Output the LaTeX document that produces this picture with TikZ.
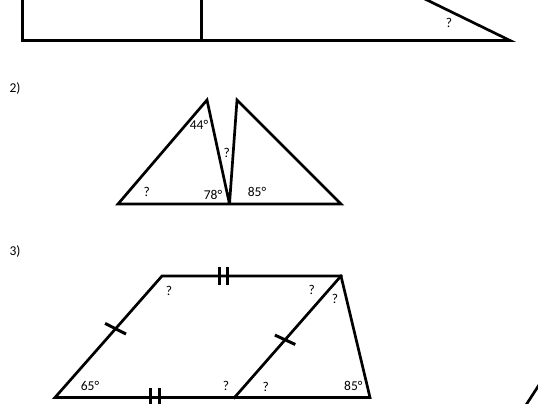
\documentclass[tikz,border=0pt]{standalone}
\usepackage{fontspec}
\setmainfont{Carlito}
\usetikzlibrary{calc}
\begin{document}
\begin{tikzpicture}[x=1pt,y=-1pt,
  edge/.style={line width=2.7pt,line join=miter,miter limit=5,line cap=rect},
  tick/.style={line width=3pt},
  lbl/.style={inner sep=0pt,font=\fontsize{13.5}{15}\selectfont}]
\useasboundingbox (0,0) rectangle (538,404);
\clip (0,0) rectangle (538,404);
% figure 1
\coordinate (r1) at (22.5,-6);
\coordinate (r2) at (22.5,40.5);
\coordinate (r3) at (510,40.5);
\coordinate (r4) at (201.5,-6);
\coordinate (r5) at (201.5,40.5);
\coordinate (r6) at (414.7,-6);
\draw[edge] (r1) -- (r2) -- (r3) -- (r6);
\draw[edge] (r4) -- (r5);
\node[lbl] (q1) at (449,23) {?};
% figure 2
\node[lbl] (n2) at (15,88) {2)};
\coordinate (A) at (118,204);
\coordinate (B) at (207,100);
\coordinate (C) at (229.5,204);
\coordinate (D) at (237,100);
\coordinate (E) at (341,204);
\draw[edge,line cap=butt] (A) -- (B) -- (C) -- (D) -- (E) -- cycle;
\node[lbl] (a44) at (199,125) {44°};
\node[lbl] (q2) at (226.7,153) {?};
\node[lbl] (a78) at (213,195) {78°};
\node[lbl] (q3) at (146.7,191.5) {?};
\node[lbl] (a85) at (257,191.5) {85°};
% figure 3
\node[lbl] (n3) at (15,251) {3)};
\coordinate (P1) at (55,397.5);
\coordinate (P2) at (162,276);
\coordinate (P3) at (341,276);
\coordinate (P4) at (370,397.5);
\coordinate (M) at (234.5,397.5);
\draw[edge,line cap=butt] (P1) -- (P2) -- (P3) -- (P4) -- cycle;
\draw[edge] (M) -- (P3);
% ticks
\coordinate (t1) at ($(P1)!0.566!(P2)$);
\coordinate (t2) at ($(M)!0.475!(P3)$);
\draw[tick] ($(t1)+(-10.5,-5.3)$) -- ($(t1)+(10.5,5.3)$);
\draw[tick] ($(t2)+(-10.2,-4.7)$) -- ($(t2)+(10.2,4.7)$);
\draw[tick] (219,267) -- (219,284.5);
\draw[tick] (227.5,267) -- (227.5,284.5);
\draw[tick] (150.5,388) -- (150.5,407);
\draw[tick] (159,388) -- (159,407);
\node[lbl] (q4) at (169,290.7) {?};
\node[lbl] (q5) at (311.7,290) {?};
\node[lbl] (q6) at (335,299) {?};
\node[lbl] (a65) at (90,386) {65°};
\node[lbl] (q7) at (226,386) {?};
\node[lbl] (q8) at (265.7,386.7) {?};
\node[lbl] (b85) at (353.3,386) {85°};
% figure 4 fragment
\coordinate (f1) at (545,375.7);
\coordinate (f2) at (522.5,410.4);
\draw[edge] (f1) -- (f2);
\end{tikzpicture}
\end{document}
